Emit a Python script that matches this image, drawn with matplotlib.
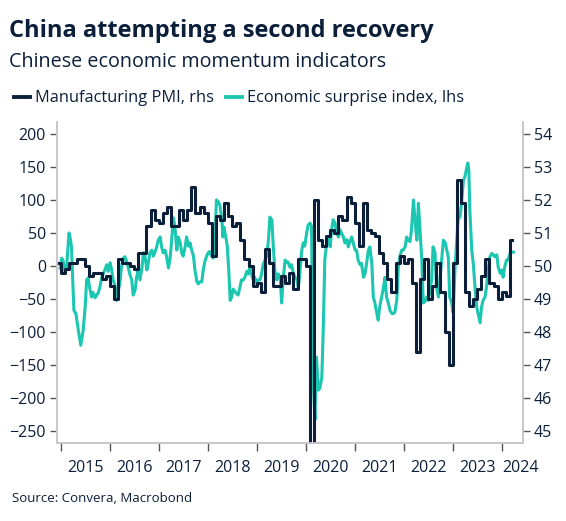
import matplotlib.pyplot as plt
from matplotlib.lines import Line2D
import numpy as np

plt.rcParams['font.family'] = ['Open Sans', 'DejaVu Sans']

NAVY = '#0b1f3a'
TEAL = '#1cc7b1'
GREY = '#c8c8c8'

## Manufacturing PMI (monthly, Dec 2014 .. Mar 2024)
pmi_start = 2014 + 11 / 12
pmi = [50.1,
       49.8, 49.9, 50.1, 50.1, 50.2, 50.2, 50.0, 49.7, 49.8, 49.8, 49.6, 49.7,
       49.4, 49.0, 50.2, 50.1, 50.1, 50.0, 49.9, 50.4, 50.4, 51.2, 51.7, 51.4,
       51.3, 51.6, 51.8, 51.2, 51.2, 51.7, 51.4, 51.7, 52.4, 51.6, 51.8, 51.6,
       51.3, 50.3, 51.5, 51.4, 51.9, 51.5, 51.2, 51.3, 50.8, 50.2, 50.0, 49.4,
       49.5, 49.2, 50.5, 50.1, 49.4, 49.4, 49.7, 49.5, 49.8, 49.3, 50.2, 50.2,
       50.0, 35.7, 52.0, 50.8, 50.6, 50.9, 51.1, 51.0, 51.5, 51.4, 52.1, 51.9,
       51.3, 50.6, 51.9, 51.1, 51.0, 50.9, 50.4, 50.1, 49.6, 49.2, 50.1, 50.3,
       50.1, 50.2, 49.5, 47.4, 49.6, 50.2, 49.0, 49.4, 50.1, 49.2, 48.0, 47.0,
       50.1, 52.6, 51.9, 49.2, 48.8, 49.0, 49.3, 49.7, 50.2, 49.5, 49.4, 49.0,
       49.2, 49.1, 50.8]

## Economic surprise index
esi_dates = [
    2014.99, 2015.02, 2015.05, 2015.09, 2015.12, 2015.17, 2015.20, 2015.22, 2015.24, 2015.27,
    2015.31, 2015.36, 2015.41, 2015.46, 2015.50, 2015.53, 2015.56, 2015.60, 2015.63, 2015.66,
    2015.70, 2015.73, 2015.77, 2015.80, 2015.84, 2015.87, 2015.90, 2015.94, 2015.97, 2016.01,
    2016.04, 2016.07, 2016.11, 2016.14, 2016.17, 2016.21, 2016.24, 2016.28, 2016.31, 2016.34,
    2016.38, 2016.41, 2016.45, 2016.48, 2016.52, 2016.55, 2016.58, 2016.62, 2016.66, 2016.69,
    2016.72, 2016.76, 2016.79, 2016.82, 2016.86, 2016.89, 2016.92, 2016.96, 2016.99, 2017.03,
    2017.06, 2017.09, 2017.13, 2017.16, 2017.20, 2017.23, 2017.25, 2017.30, 2017.33, 2017.37,
    2017.40, 2017.44, 2017.47, 2017.50, 2017.54, 2017.57, 2017.61, 2017.64, 2017.67, 2017.71,
    2017.74, 2017.78, 2017.81, 2017.84, 2017.88, 2017.91, 2017.94, 2017.98, 2018.01, 2018.04,
    2018.08, 2018.11, 2018.15, 2018.18, 2018.21, 2018.25, 2018.29, 2018.31, 2018.33, 2018.37,
    2018.40, 2018.43, 2018.46, 2018.49, 2018.52, 2018.56, 2018.59, 2018.62, 2018.66, 2018.69,
    2018.73, 2018.76, 2018.80, 2018.83, 2018.86, 2018.89, 2018.93, 2018.96, 2019.00, 2019.03,
    2019.07, 2019.10, 2019.13, 2019.20, 2019.24, 2019.27, 2019.31, 2019.34, 2019.37, 2019.41,
    2019.44, 2019.48, 2019.51, 2019.54, 2019.58, 2019.61, 2019.64, 2019.68, 2019.71, 2019.75,
    2019.78, 2019.82, 2019.85, 2019.88, 2019.92, 2019.95, 2019.98, 2020.02, 2020.05, 2020.09,
    2020.12, 2020.15, 2020.19, 2020.22, 2020.26, 2020.29, 2020.33, 2020.36, 2020.39, 2020.43,
    2020.46, 2020.50, 2020.53, 2020.56, 2020.60, 2020.63, 2020.67, 2020.70, 2020.73, 2020.77,
    2020.80, 2020.84, 2020.87, 2020.90, 2020.94, 2020.97, 2021.01, 2021.04, 2021.07, 2021.11,
    2021.14, 2021.18, 2021.21, 2021.24, 2021.28, 2021.31, 2021.35, 2021.38, 2021.41, 2021.45,
    2021.48, 2021.51, 2021.55, 2021.58, 2021.62, 2021.65, 2021.69, 2021.72, 2021.76, 2021.79,
    2021.82, 2021.86, 2021.89, 2021.92, 2021.96, 2021.99, 2022.03, 2022.06, 2022.09, 2022.13,
    2022.16, 2022.20, 2022.23, 2022.27, 2022.30, 2022.33, 2022.37, 2022.40, 2022.44, 2022.47,
    2022.50, 2022.54, 2022.57, 2022.60, 2022.64, 2022.67, 2022.71, 2022.74, 2022.78, 2022.81,
    2022.85, 2022.88, 2022.91, 2022.94, 2022.98, 2023.01, 2023.05, 2023.08, 2023.11, 2023.15,
    2023.18, 2023.22, 2023.25, 2023.29, 2023.31, 2023.33, 2023.35, 2023.39, 2023.42, 2023.46,
    2023.49, 2023.52, 2023.56, 2023.59, 2023.62, 2023.66, 2023.69, 2023.73, 2023.76, 2023.80,
    2023.83, 2023.86, 2023.90, 2023.93, 2023.97, 2024.00, 2024.03, 2024.06, 2024.10, 2024.13,
    2024.17, 2024.20, 2024.24]
esi = [
    -3, 12, 8, -11, -2, 50, 40, 29, -10, -67,
    -72, -97, -120, -97, -62, -21, -18, -36, -47, -40,
    -48, -45, -40, -32, -17, -12, -6, 2, -8, 5,
    -6, -21, -30, -52, -40, -25, -2, 12, 14, 8,
    -2, -12, -21, -44, -36, -17, -6, -21, -2, 20,
    15, -6, 5, 20, 24, 15, 20, 29, 39, 44,
    29, 20, 24, 15, -3, 10, 25, 73, 60, 24,
    44, 35, 20, 15, 29, 44, 30, 35, 25, 15,
    -6, -24, -27, -24, -24, -6, 6, 15, 20, 22,
    15, 12, 50, 100, 98, 92, 70, 44, 59, 44,
    30, -6, -52, -47, -35, -39, -42, -44, -32, -21,
    -21, -17, -8, -12, -2, -12, -21, -17, -26, -21,
    -21, -12, 2, 14, 39, 74, 70, 29, -6, -21,
    -12, -17, -56, -21, 9, 6, 6, -2, 2, -11,
    -17, -20, -33, -12, 24, 35, 30, 50, 62, 65,
    60, -168, -233, -138, -188, -185, -168, -92, 9, 35,
    45, 29, 55, 70, 65, 50, 44, 55, 50, 44,
    35, 40, 29, 37, 44, 35, 24, 24, 9, 2,
    4, -17, -12, 2, 24, 29, 4, -47, -55, -71,
    -82, -62, -47, -36, -17, -47, -57, -67, -72, -72,
    -70, -52, -2, 14, 24, 24, 29, 44, 39, 37,
    55, 100, 70, 39, 95, 60, 9, -56, -53, -47,
    -52, -36, -21, 29, 20, -32, -47, -21, 14, 39,
    35, 24, 14, -47, -56, -71, 0, 35, 70, 75,
    95, 130, 135, 150, 156, 145, 85, 24, 4, -36,
    -62, -72, -86, -62, -52, -47, -32, -2, 14, 19,
    17, 14, 17, -2, -11, -6, -17, -2, 9, 9,
    19, 21, 21]

year_labels = [str(y) for y in range(2015, 2025)]

fig = plt.figure(figsize=(5.66, 5.21), dpi=100)
ax = fig.add_axes([0.1007, 0.1497, 0.8233, 0.6161])
ax2 = ax.twinx()

# surprise index on the left axis
ax.plot(esi_dates, esi, color=TEAL, lw=2.2, solid_joinstyle='round')

# PMI on the right axis, monthly steps
pmi_x = pmi_start + np.arange(len(pmi)) / 12
pmi_x = np.append(pmi_x, pmi_x[-1] + 0.04)
pmi_y = np.append(pmi, pmi[-1])
ax2.plot(pmi_x, pmi_y, color=NAVY, lw=2.2, drawstyle='steps-post')

ax.set_xlim(2014.925, 2024.435)
ax.set_ylim(-268, 218)
ax2.set_ylim(44.64, 54.36)

ax.set_yticks(np.arange(-250, 201, 50))
ax2.set_yticks(np.arange(45, 55, 1))

years = np.arange(2015, 2025)
ax.set_xticks(years)
ax.set_xticklabels([])
label_pos = years + 0.5
label_pos[-1] = 2024.38
ax.set_xticks(label_pos, minor=True)
ax.set_xticklabels(year_labels, minor=True)

for a in (ax, ax2):
    a.spines['top'].set_visible(False)
    for s in ('left', 'right', 'bottom'):
        a.spines[s].set_color(GREY)
        a.spines[s].set_linewidth(1.3)
    a.tick_params(axis='both', which='major', colors='#555555', length=5, width=1,
                  labelsize=11.5, labelcolor=NAVY, pad=3)
ax.tick_params(axis='x', which='minor', length=0, labelsize=11.5, labelcolor=NAVY, pad=12)
ax.tick_params(axis='x', which='major', length=6)

fig.text(0.016, 0.929, "China attempting a second recovery", fontsize=17,
         fontweight='bold', color=NAVY, va='baseline')
fig.text(0.016, 0.871, "Chinese economic momentum indicators", fontsize=14.2,
         color=NAVY, va='baseline')

handles = [Line2D([], [], color=NAVY, lw=2.8), Line2D([], [], color=TEAL, lw=2.8)]
fig.legend(handles, ["Manufacturing PMI, rhs", "Economic surprise index, lhs"],
           loc='center left', bbox_to_anchor=(0.004, 0.811), ncol=2, frameon=False,
           fontsize=11.8, handlelength=1.0, handletextpad=0.3, columnspacing=0.7,
           labelcolor=NAVY, borderaxespad=0.3)

fig.text(0.022, 0.0365, "Source: Convera, Macrobond", fontsize=9.5, color=NAVY, va='baseline')

plt.savefig("out.png", dpi=100)
